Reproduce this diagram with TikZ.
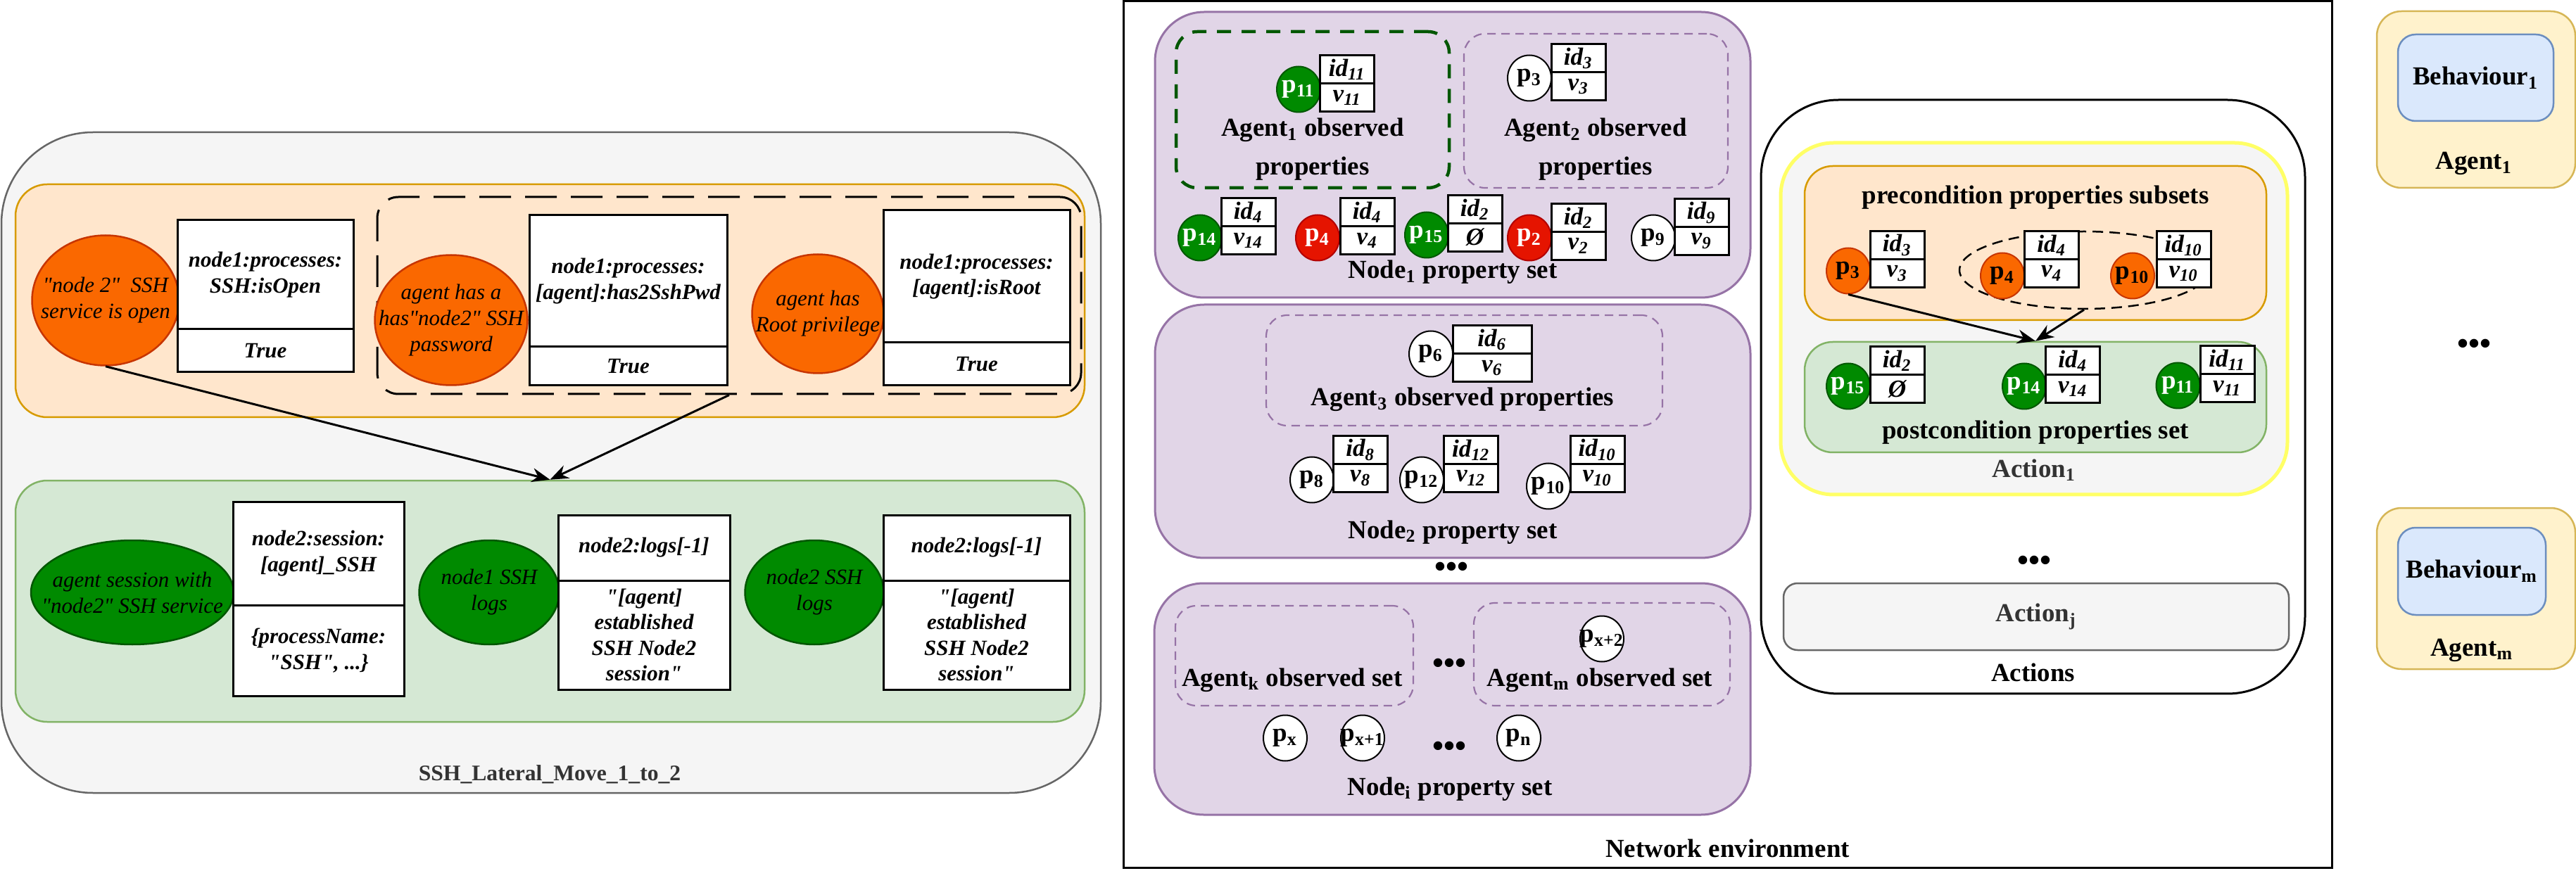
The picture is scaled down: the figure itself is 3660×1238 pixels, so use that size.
\documentclass[tikz,border=0pt]{standalone}
\usepackage{fontspec}
\setmainfont{Liberation Serif}[Ligatures=TeXOff]
\usepackage{tikz}
\usetikzlibrary{shapes.geometric, arrows.meta, positioning, calc}

\definecolor{dorange}{HTML}{FA6800}
\definecolor{dorangeline}{HTML}{C73500}
\definecolor{dgreen}{HTML}{008A00}
\definecolor{dgreenline}{HTML}{005700}
\definecolor{dred}{HTML}{E51400}
\definecolor{dredline}{HTML}{B20000}
\definecolor{purplefill}{HTML}{E1D5E7}
\definecolor{purpleline}{HTML}{9673A6}
\definecolor{orangefill}{HTML}{FFE6CC}
\definecolor{orangeline}{HTML}{D79B00}
\definecolor{greenfill}{HTML}{D5E8D4}
\definecolor{greenline}{HTML}{82B366}
\definecolor{grayfill}{HTML}{F5F5F5}
\definecolor{grayline}{HTML}{666666}
\definecolor{graytext}{HTML}{333333}
\definecolor{yellowline}{HTML}{FFFF66}
\definecolor{agentfill}{HTML}{FFF2CC}
\definecolor{agentline}{HTML}{D6B656}
\definecolor{behfill}{HTML}{DAE8FC}
\definecolor{behline}{HTML}{6C8EBF}

\newcommand{\prop}[7]{%
  \node[#2] (#1) at (#3) {\makebox[0pt]{p\textsubscript{#4}}};
  \node[idcell, anchor=south] (#1i) at (#5) {id\textsubscript{#6}};
  \node[idcell, anchor=north] (#1v) at (#5) {#7};
}

\begin{document}
\begin{tikzpicture}[x=0.1mm, y=-0.1mm,
  box/.style={draw, rectangle, inner sep=0pt, line width=0.25mm},
  lbl/.style={inner sep=0pt, anchor=base, font=\fontsize{10.5}{12.6}\selectfont\bfseries},
  dots/.style={inner sep=0pt, font=\fontsize{13}{15}\selectfont\bfseries},
  cell/.style={draw, rectangle, fill=white, line width=0.3mm, inner sep=1pt, outer sep=0pt,
    align=center, font=\fontsize{8.8}{10.4}\selectfont\bfseries\itshape},
  idcell/.style={draw, rectangle, fill=white, line width=0.3mm, inner sep=0pt, outer sep=0pt,
    minimum width=7.7mm, minimum height=4mm, font=\fontsize{10}{12}\selectfont\bfseries\itshape},
  lell/.style={ellipse, draw, line width=0.25mm, inner sep=0pt},
  ltxt/.style={align=center, inner sep=0pt, font=\fontsize{8.8}{10.5}\selectfont\itshape},
  pcirc/.style={ellipse, draw, line width=0.2mm, minimum width=6.2mm, minimum height=6.5mm,
    inner sep=0pt, font=\fontsize{10.5}{12}\selectfont\bfseries},
  pgreen/.style={pcirc, fill=dgreen, draw=dgreenline, text=white},
  pred/.style={pcirc, fill=dred, draw=dredline, text=white},
  pwhite/.style={pcirc, fill=white, draw=black},
  porange/.style={pcirc, fill=dorange, draw=dorangeline},
  purpleset/.style={box, fill=purplefill, draw=purpleline, line width=0.3mm, rounded corners=7mm},
  agentobs/.style={box, draw=purpleline, line width=0.22mm, dash pattern=on 1.2mm off 0.8mm, rounded corners=3mm},
  arr/.style={-{Stealth[length=2.6mm, width=2mm]}, line width=0.3mm}]

  \useasboundingbox (0,0) rectangle (3660,1238);

  \node[box, fill=grayfill, draw=grayline, rounded corners=13mm, minimum width=156.2mm, minimum height=93.9mm] (ssh) at (783,657.5) {};
  \node[lbl, text=graytext, font=\fontsize{9}{11}\selectfont\bfseries] (sshlabel) at (781,1109) {SSH\_Lateral\_Move\_1\_to\_2};

  \node[box, fill=orangefill, draw=orangeline, rounded corners=4.5mm, minimum width=151.9mm, minimum height=33.1mm] (pre) at (781.5,427.5) {};
  \node[box, line width=0.3mm, dash pattern=on 4.5mm off 2mm, rounded corners=3mm, minimum width=100mm, minimum height=28mm] (grp) at (1036,420) {};

  \node[lell, fill=dorange, draw=dorangeline, minimum width=20.9mm, minimum height=18.5mm,
    label={[ltxt]center:{"node 2"\ \ SSH\\service is open}}] (e1) at (150,427) {};
  \node[cell, minimum width=25mm, minimum height=15.5mm] (t1) at (377,390.5) {node1:processes:\\SSH:isOpen};
  \node[cell, minimum width=25mm, minimum height=6.1mm, below=0pt of t1] (t1b) {True};

  \node[lell, fill=dorange, draw=dorangeline, minimum width=21.7mm, minimum height=18.5mm,
    label={[ltxt]center:{agent has a\\has"node2" SSH\\password}}] (e2) at (641,455) {};
  \node[cell, minimum width=28.1mm, minimum height=18.7mm] (t2) at (892.5,399.5) {node1:processes:\\{}[agent]:has2SshPwd};
  \node[cell, minimum width=28.1mm, minimum height=5.5mm, below=0pt of t2] (t2b) {True};

  \node[lell, fill=dorange, draw=dorangeline, minimum width=18.7mm, minimum height=16.9mm,
    label={[ltxt]center:{agent has\\Root privilege}}] (e3) at (1162,446) {};
  \node[cell, minimum width=26.5mm, minimum height=18.8mm] (t3) at (1387.5,393) {node1:processes:\\{}[agent]:isRoot};
  \node[cell, minimum width=26.5mm, minimum height=6.1mm, below=0pt of t3] (t3b) {True};

  \node[box, fill=greenfill, draw=greenline, rounded corners=4.5mm, minimum width=151.9mm, minimum height=34.3mm] (post) at (781.5,854.5) {};

  \node[lell, fill=dgreen, draw=dgreenline, minimum width=28.8mm, minimum height=14.8mm,
    label={[ltxt]center:{agent session with\\"node2" SSH service}}] (e4) at (188,842) {};
  \node[cell, minimum width=24.3mm, minimum height=14.7mm] (t4) at (452.5,786.5) {node2:session:\\{}[agent]\_SSH};
  \node[cell, minimum width=24.3mm, minimum height=12.9mm, below=0pt of t4] (t4b) {\{processName:\\"SSH", ...\}};

  \node[lell, fill=dgreen, draw=dgreenline, minimum width=19.9mm, minimum height=14.8mm,
    label={[ltxt]center:{node1 SSH\\logs}}] (e5) at (695,842) {};
  \node[cell, minimum width=24.4mm, minimum height=9.3mm] (t5) at (915,778.5) {node2:logs[-1]};
  \node[cell, minimum width=24.4mm, minimum height=15.5mm, below=0pt of t5] (t5b) {"[agent]\\established\\SSH Node2\\session"};

  \node[lell, fill=dgreen, draw=dgreenline, minimum width=19.7mm, minimum height=14.8mm,
    label={[ltxt]center:{node2 SSH\\logs}}] (e6) at (1157,842) {};
  \node[cell, minimum width=26.5mm, minimum height=9.3mm] (t6) at (1387.5,778.5) {node2:logs[-1]};
  \node[cell, minimum width=26.5mm, minimum height=15.5mm, below=0pt of t6] (t6b) {"[agent]\\established\\SSH Node2\\session"};

  \draw[arr] (e1.south) -- (post.north);
  \draw[arr] (grp.south) -- (post.north);

  \node[box, line width=0.3mm, minimum width=171.7mm, minimum height=123.1mm] (net) at (2454.5,617.5) {};
  \node[lbl] (netlabel) at (2454.5,1218) {Network environment};

  \node[purpleset, minimum width=84.6mm, minimum height=40.6mm] (node1) at (2064,220) {};
  \node[box, draw=dgreenline, line width=0.45mm, dash pattern=on 2mm off 1.5mm, rounded corners=3mm,
    minimum width=38.8mm, minimum height=22.2mm] (obs1) at (1865,156) {};
  \node[lbl, anchor=center, align=center, font=\fontsize{10.5}{15.6}\selectfont\bfseries] (obs1label) at (1865,212) {Agent\textsubscript{1} observed\\properties};
  \prop{n1p11}{pgreen}{1845,127}{11}{1914,119}{11}{v\textsubscript{11}}
  \node[agentobs, minimum width=37.5mm, minimum height=21.9mm] (obs2) at (2267.5,157.5) {};
  \node[lbl, anchor=center, align=center, font=\fontsize{10.5}{15.6}\selectfont\bfseries] (obs2label) at (2267,212) {Agent\textsubscript{2} observed\\properties};
  \prop{n1p3}{pwhite}{2173,111}{3}{2242.5,103}{3}{v\textsubscript{3}}
  \prop{n1p14}{pgreen}{1705,338}{14}{1773.5,322}{4}{v\textsubscript{14}}
  \prop{n1p4}{pred}{1872,338}{4}{1942.5,322}{4}{v\textsubscript{4}}
  \prop{n1p15}{pgreen}{2027,334}{15}{2095.5,317.5}{2}{Ø}
  \prop{n1p2}{pred}{2173,338}{2}{2242.5,329.5}{2}{v\textsubscript{2}}
  \prop{n1p9}{pwhite}{2349,338}{9}{2417.5,322.5}{9}{v\textsubscript{9}}
  \node[lbl] (node1label) at (2064,396) {Node\textsubscript{1} property set};

  \node[purpleset, minimum width=84.6mm, minimum height=36mm] (node2) at (2064,613) {};
  \node[agentobs, minimum width=56.3mm, minimum height=15.7mm] (obs3) at (2080.5,526.5) {};
  \begin{scope}[idcell/.append style={minimum width=11.2mm}]
    \prop{n2p6}{pwhite}{2033,503}{6}{2120,503}{6}{v\textsubscript{6}}
  \end{scope}
  \node[lbl] (obs3label) at (2078,577) {Agent\textsubscript{3} observed properties};
  \prop{n2p8}{pwhite}{1864,682}{8}{1933,659.5}{8}{v\textsubscript{8}}
  \prop{n2p12}{pwhite}{2020,682}{12}{2090,659.5}{12}{v\textsubscript{12}}
  \prop{n2p10}{pwhite}{2200,691}{10}{2269.5,659.5}{10}{v\textsubscript{10}}
  \node[lbl] (node2label) at (2064,765) {Node\textsubscript{2} property set};
  \node[dots] (ndots) at (2062,810) {•••};

  \node[purpleset, minimum width=84.7mm, minimum height=32.9mm] (nodei) at (2063.5,993.5) {};
  \node[agentobs, minimum width=33.8mm, minimum height=14.2mm] (obsk) at (1839,932) {};
  \node[lbl] (obsklabel) at (1836,975) {Agent\textsubscript{k} observed set};
  \node[dots] (odots) at (2059,947) {•••};
  \node[agentobs, minimum width=36.4mm, minimum height=14.6mm] (obsm) at (2276,930) {};
  \node[lbl] (obsmlabel) at (2273,975) {Agent\textsubscript{m} observed set};
  \node[pwhite] (px2) at (2276,908) {\makebox[0pt]{p\textsubscript{x+2}}};
  \node[pwhite] (px) at (1826,1049) {\makebox[0pt]{p\textsubscript{x}}};
  \node[pwhite] (px1) at (1936,1049) {\makebox[0pt]{p\textsubscript{x+1}}};
  \node[dots] (pdots) at (2059,1065) {•••};
  \node[pwhite] (pn) at (2158,1049) {\makebox[0pt]{p\textsubscript{n}}};
  \node[lbl] (nodeilabel) at (2060,1130) {Node\textsubscript{i} property set};

  \node[box, fill=white, line width=0.3mm, rounded corners=11mm, minimum width=77.3mm, minimum height=84.4mm] (acts) at (2888.5,564) {};
  \node[lbl] (actslabel) at (2888.5,968) {Actions};
  \node[box, fill=grayfill, draw=yellowline, line width=0.5mm, rounded corners=7.5mm, minimum width=72mm, minimum height=50mm] (act1) at (2890,453) {};
  \node[lbl, text=graytext] (act1label) at (2890,678) {Action\textsubscript{1}};
  \node[box, fill=orangefill, draw=orangeline, rounded corners=4mm, minimum width=65.6mm, minimum height=21.9mm] (pc) at (2892,345.5) {};
  \node[lbl] (pclabel) at (2892,290) {precondition properties subsets};
  \node[box, fill=greenfill, draw=greenline, rounded corners=4mm, minimum width=65.6mm, minimum height=15.7mm] (qc) at (2892,564.5) {};
  \node[lbl] (qclabel) at (2892,624) {postcondition properties set};
  \node[ellipse, draw, line width=0.25mm, dash pattern=on 1.5mm off 0.9mm, inner sep=0pt,
    minimum width=35.4mm, minimum height=11mm] (pcgrp) at (2961,384) {};
  \prop{acp3}{porange}{2626,385}{3}{2695.5,368.5}{3}{v\textsubscript{3}}
  \prop{acp4}{porange}{2845,392}{4}{2915,368.5}{4}{v\textsubscript{4}}
  \prop{acp10}{porange}{3030,392}{10}{3102.5,369}{10}{v\textsubscript{10}}
  \prop{acp15}{pgreen}{2626,549}{15}{2695.5,533}{2}{Ø}
  \prop{acp14}{pgreen}{2876,549}{14}{2945,533}{4}{v\textsubscript{14}}
  \prop{acp11}{pgreen}{3094.5,548}{11}{3164.5,532}{11}{v\textsubscript{11}}
  \draw[arr] (acp3.south) -- (qc.north);
  \draw[arr] (pcgrp.south) -- (qc.north);
  \node[dots] (adots) at (2890,801) {•••};
  \node[box, fill=grayfill, draw=grayline, rounded corners=2mm, minimum width=71.8mm, minimum height=9.5mm,
    text=graytext, font=\fontsize{10.5}{12.6}\selectfont\bfseries] (actj) at (2893,876.5) {Action\textsubscript{j}};

  \node[box, fill=agentfill, draw=agentline, rounded corners=3.5mm, minimum width=28.2mm, minimum height=25.1mm] (agent1) at (3518,141.5) {};
  \node[box, fill=behfill, draw=behline, rounded corners=2.5mm, minimum width=22.1mm, minimum height=12.3mm,
    font=\fontsize{10.5}{12.6}\selectfont\bfseries] (beh1) at (3517.5,110.5) {Behaviour\textsubscript{1}};
  \node[lbl] (agent1label) at (3515,241) {Agent\textsubscript{1}};
  \node[dots] (rdots) at (3515,493) {•••};
  \node[box, fill=agentfill, draw=agentline, rounded corners=3.5mm, minimum width=28.2mm, minimum height=22.9mm] (agentm) at (3518,836.5) {};
  \node[box, fill=behfill, draw=behline, rounded corners=2.5mm, minimum width=21mm, minimum height=12.4mm,
    font=\fontsize{10.5}{12.6}\selectfont\bfseries] (behm) at (3512,812) {Behaviour\textsubscript{m}};
  \node[lbl] (agentmlabel) at (3512,932) {Agent\textsubscript{m}};
\end{tikzpicture}
\end{document}
